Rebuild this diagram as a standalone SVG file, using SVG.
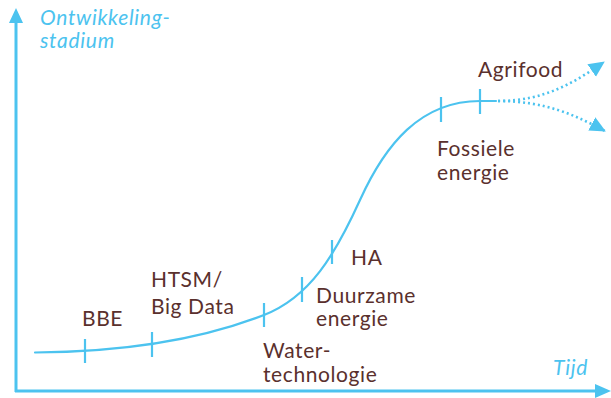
<svg xmlns="http://www.w3.org/2000/svg" width="611" height="398" viewBox="0 0 611 398">
<style>
.ax{fill:none;stroke:#4cc3ef;stroke-width:3}
.cv{fill:none;stroke:#4cc3ef;stroke-width:2.2;stroke-linecap:round}
.tk{stroke:#4cc3ef;stroke-width:2.2}
.dt{fill:none;stroke:#4cc3ef;stroke-width:2.6;stroke-dasharray:2 3}
.lb{font-family:Lato,"Open Sans",sans-serif;font-size:21px;letter-spacing:0.6px;fill:#5a302d}
.al{font-family:Lato,"Open Sans",sans-serif;font-size:21px;letter-spacing:0.7px;font-style:italic;fill:#4cc3ef}
</style>
<defs>
<marker id="ah" markerWidth="18" markerHeight="18" refX="15" refY="8.5" orient="auto" markerUnits="userSpaceOnUse">
<path d="M0,1 L16,8.5 L0,16 Z" fill="#4cc3ef"/>
</marker>
</defs>
<g id="axes">
<path class="ax" d="M16,392 L16,22"/>
<path d="M9,23 L16,8 L23,23 Z" fill="#4cc3ef"/>
<path class="ax" d="M15,391 L596,391"/>
<path d="M595,384 L611,391 L595,398 Z" fill="#4cc3ef"/>
<text class="al" x="40" y="25">Ontwikkeling-</text>
<text class="al" x="40" y="48">stadium</text>
<text class="al" x="553" y="375">Tijd</text>
</g>
<g id="connectors">
<path class="cv" d="M35,352.5 C120,352 200,340 264,315 C310,297 335,255 360,200 C385,145 420,101 480,101 L496,101"/>
<path class="dt" d="M498,101 C545,101 575,82 604,62" marker-end="url(#ah)"/>
<path class="dt" d="M498,101 C545,101 575,115 605,131" marker-end="url(#ah)"/>
</g>
<g id="bbe"><line class="tk" x1="85" y1="339" x2="85" y2="363"/><text class="lb" x="82" y="326">BBE</text></g>
<g id="htsm"><line class="tk" x1="152" y1="332" x2="152" y2="357"/><text class="lb" x="151" y="287">HTSM/</text><text class="lb" x="151" y="314">Big Data</text></g>
<g id="water"><line class="tk" x1="264" y1="303" x2="264" y2="327"/><text class="lb" x="263" y="358">Water-</text><text class="lb" x="263" y="382">technologie</text></g>
<g id="duurzaam"><line class="tk" x1="302" y1="277" x2="302" y2="302"/><text class="lb" x="316" y="303">Duurzame</text><text class="lb" x="316" y="326">energie</text></g>
<g id="ha"><line class="tk" x1="332" y1="240" x2="332" y2="264"/><text class="lb" x="351" y="265">HA</text></g>
<g id="fossiel"><line class="tk" x1="441" y1="97" x2="441" y2="122"/><text class="lb" x="437" y="156">Fossiele</text><text class="lb" x="437" y="180">energie</text></g>
<g id="agrifood"><line class="tk" x1="480" y1="89" x2="480" y2="114"/><text class="lb" x="478" y="77">Agrifood</text></g>
</svg>
